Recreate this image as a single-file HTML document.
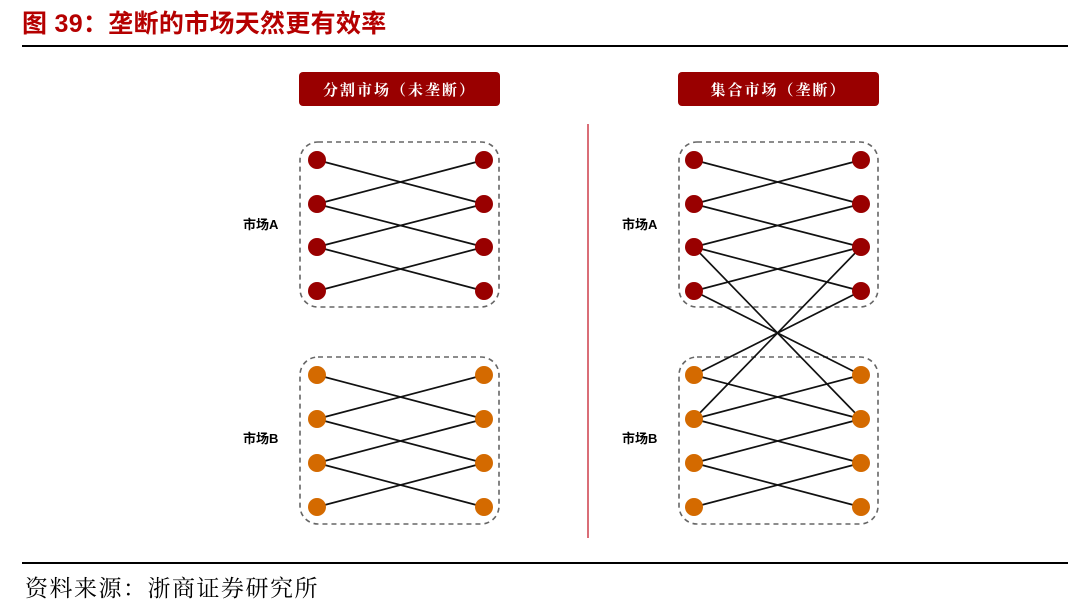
<!DOCTYPE html>
<html><head><meta charset="utf-8"><style>
html,body{margin:0;padding:0;background:#fff;}
body{width:1080px;height:608px;overflow:hidden;}
</style></head><body>
<svg width="1080" height="608" viewBox="0 0 1080 608" xmlns="http://www.w3.org/2000/svg">
<text x="22" y="32" font-family="Liberation Sans, Noto Sans CJK SC, sans-serif" font-size="25" font-weight="bold" fill="#b50000" letter-spacing="0.3">图 39：垄断的市场天然更有效率</text>
<line x1="22" y1="46" x2="1068" y2="46" stroke="#000" stroke-width="2"/>
<line x1="22" y1="563" x2="1068" y2="563" stroke="#000" stroke-width="2"/>
<text x="25" y="596" font-family="Liberation Serif, Noto Serif CJK SC, serif" font-size="23" fill="#000" letter-spacing="1.5">资料来源：浙商证券研究所</text>
<line x1="588" y1="124" x2="588" y2="538" stroke="#d04a55" stroke-width="1.6"/>

<rect x="299" y="72" width="201" height="34" rx="4" fill="#990000"/>
<text x="399.5" y="95" text-anchor="middle" font-family="Noto Serif CJK SC, serif" font-size="15" font-weight="bold" fill="#fff" letter-spacing="2">分割市场（未垄断）</text>
<rect x="678" y="72" width="201" height="34" rx="4" fill="#990000"/>
<text x="778.5" y="95" text-anchor="middle" font-family="Noto Serif CJK SC, serif" font-size="15" font-weight="bold" fill="#fff" letter-spacing="2">集合市场（垄断）</text>

<g font-family="Liberation Sans, Noto Sans CJK SC, sans-serif" font-size="13" font-weight="bold" fill="#000">
<text x="243" y="229">市场A</text><text x="243" y="443">市场B</text>
<text x="622" y="229">市场A</text><text x="622" y="443">市场B</text>
</g>

<g fill="none" stroke="#666" stroke-width="1.6" stroke-dasharray="5,4">
<rect x="300" y="142" width="199" height="165" rx="18"/>
<rect x="300" y="357" width="199" height="167" rx="18"/>
<rect x="679" y="142" width="199" height="165" rx="18"/>
<rect x="679" y="357" width="199" height="167" rx="18"/>
</g>

<g stroke="#111" stroke-width="1.7">
<line x1="317" y1="160" x2="484" y2="204"/><line x1="317" y1="204" x2="484" y2="160"/>
<line x1="317" y1="204" x2="484" y2="247"/><line x1="317" y1="247" x2="484" y2="204"/>
<line x1="317" y1="247" x2="484" y2="291"/><line x1="317" y1="291" x2="484" y2="247"/>
<line x1="317" y1="375" x2="484" y2="419"/><line x1="317" y1="419" x2="484" y2="375"/>
<line x1="317" y1="419" x2="484" y2="463"/><line x1="317" y1="463" x2="484" y2="419"/>
<line x1="317" y1="463" x2="484" y2="507"/><line x1="317" y1="507" x2="484" y2="463"/>
<line x1="694" y1="160" x2="861" y2="204"/><line x1="694" y1="204" x2="861" y2="160"/>
<line x1="694" y1="204" x2="861" y2="247"/><line x1="694" y1="247" x2="861" y2="204"/>
<line x1="694" y1="247" x2="861" y2="291"/><line x1="694" y1="291" x2="861" y2="247"/>
<line x1="694" y1="375" x2="861" y2="419"/><line x1="694" y1="419" x2="861" y2="375"/>
<line x1="694" y1="419" x2="861" y2="463"/><line x1="694" y1="463" x2="861" y2="419"/>
<line x1="694" y1="463" x2="861" y2="507"/><line x1="694" y1="507" x2="861" y2="463"/>
<line x1="694" y1="247" x2="861" y2="419"/><line x1="694" y1="291" x2="861" y2="375"/>
<line x1="694" y1="375" x2="861" y2="291"/><line x1="694" y1="419" x2="861" y2="247"/>
</g>

<g fill="#990000">
<circle cx="317" cy="160" r="9"/><circle cx="317" cy="204" r="9"/><circle cx="317" cy="247" r="9"/><circle cx="317" cy="291" r="9"/>
<circle cx="484" cy="160" r="9"/><circle cx="484" cy="204" r="9"/><circle cx="484" cy="247" r="9"/><circle cx="484" cy="291" r="9"/>
<circle cx="694" cy="160" r="9"/><circle cx="694" cy="204" r="9"/><circle cx="694" cy="247" r="9"/><circle cx="694" cy="291" r="9"/>
<circle cx="861" cy="160" r="9"/><circle cx="861" cy="204" r="9"/><circle cx="861" cy="247" r="9"/><circle cx="861" cy="291" r="9"/>
</g>
<g fill="#d46a00">
<circle cx="317" cy="375" r="9"/><circle cx="317" cy="419" r="9"/><circle cx="317" cy="463" r="9"/><circle cx="317" cy="507" r="9"/>
<circle cx="484" cy="375" r="9"/><circle cx="484" cy="419" r="9"/><circle cx="484" cy="463" r="9"/><circle cx="484" cy="507" r="9"/>
<circle cx="694" cy="375" r="9"/><circle cx="694" cy="419" r="9"/><circle cx="694" cy="463" r="9"/><circle cx="694" cy="507" r="9"/>
<circle cx="861" cy="375" r="9"/><circle cx="861" cy="419" r="9"/><circle cx="861" cy="463" r="9"/><circle cx="861" cy="507" r="9"/>
</g>
</svg>
</body></html>
